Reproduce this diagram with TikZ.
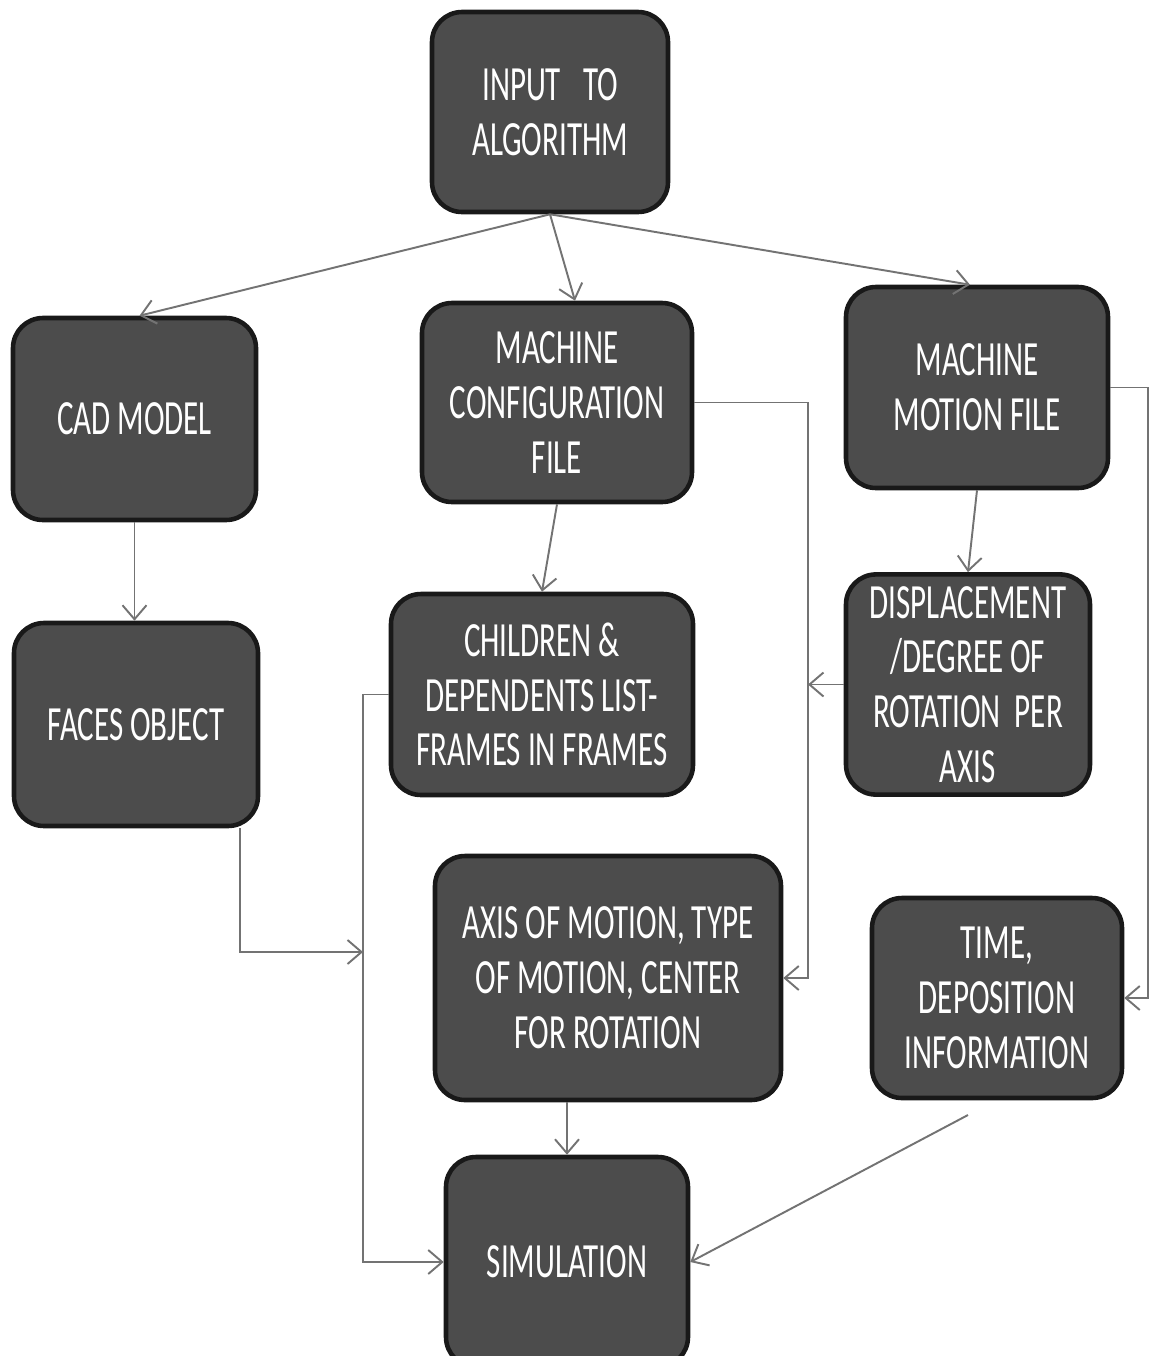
\documentclass[tikz,border=0pt]{standalone}
\usepackage{fontspec}
\setmainfont{Carlito}[FakeStretch=0.63]
\usetikzlibrary{positioning,calc,arrows.meta}

\begin{document}
\begin{tikzpicture}[
			box/.style={draw=black!90, fill=black!70, line width=1.3pt, rounded corners=0.3cm, text=white!92, align=center, font=\fontsize{14}{15.6}\selectfont},
			arrow/.style={-{Straight Barb[length=1.4mm,width=2.4mm]}, draw=black!55, line width=0.55pt}]
			\useasboundingbox (0,0) rectangle (11.49,-13.56);
			\node[box, minimum width=2.36cm, minimum height=2.00cm] (input) at (5.50,-1.12) {INPUT\hspace{0.22cm}TO\\ALGORITHM};
			\node[box, minimum width=2.43cm, minimum height=2.02cm] (cad) at (1.345,-4.19) {CAD MODEL};
			\node[box, minimum width=2.70cm, minimum height=1.99cm] (mconf) at (5.57,-4.025) {MACHINE\\CONFIGURATION\\FILE};
			\node[box, minimum width=2.62cm, minimum height=2.01cm] (mmotion) at (9.77,-3.875) {MACHINE\\MOTION FILE};
			\node[box, minimum width=2.44cm, minimum height=2.03cm] (faces) at (1.36,-7.245) {FACES OBJECT};
			\node[box, minimum width=3.02cm, minimum height=2.01cm] (children) at (5.42,-6.945) {CHILDREN \&\\DEPENDENTS LIST-\\FRAMES IN FRAMES};
			\node[box, minimum width=2.44cm, minimum height=2.19cm] (disp) at (9.68,-6.845) {DISPLACEMENT\\/DEGREE OF\\ROTATION\hspace{0.14cm}PER\\AXIS};
			\node[box, minimum width=3.46cm, minimum height=2.44cm] (axis) at (6.08,-9.78) {AXIS OF MOTION, TYPE\\OF MOTION, CENTER\\FOR ROTATION};
			\node[box, minimum width=2.50cm, minimum height=2.00cm] (time) at (9.97,-9.98) {TIME,\\DEPOSITION\\INFORMATION};
			\node[box, minimum width=2.42cm, minimum height=2.10cm] (sim) at (5.67,-12.62) {SIMULATION};
			
			\coordinate (cfgrail) at (8.08,-4.025);
			\coordinate (motrail) at (11.48,-3.875);
			\coordinate (childrail) at (3.63,-6.945);
			\coordinate (facejoin) at (3.63,-9.52);
			\coordinate (timeout) at (9.68,-11.15);
			
			\draw[arrow] (input.south) -- ([xshift=0.05cm]cad.north);
			\draw[arrow] (input.south) -- ([xshift=0.18cm]mconf.north);
			\draw[arrow] (input.south) -- ([xshift=-0.07cm]mmotion.north);
			\draw[arrow] (cad.south) -- (cad.south |- faces.north);
			\draw[arrow] (mconf.south) -- (children.north);
			\draw[arrow] (mmotion.south) -- (disp.north);
			\draw[arrow] (mconf.east) -- (cfgrail) |- (axis.east);
			\draw[arrow] (disp.west) -- (disp.west -| cfgrail);
			\draw[arrow] (mmotion.east) -- (motrail) |- (time.east);
			\draw[arrow] (children.west) -- (childrail) |- (sim.west);
			\draw[arrow] ([xshift=1.04cm]faces.south) |- (facejoin);
			\draw[arrow] (axis.south -| sim.north) -- (sim.north);
			\draw[arrow] (timeout) -- (sim.east);
		\end{tikzpicture}
\end{document}
